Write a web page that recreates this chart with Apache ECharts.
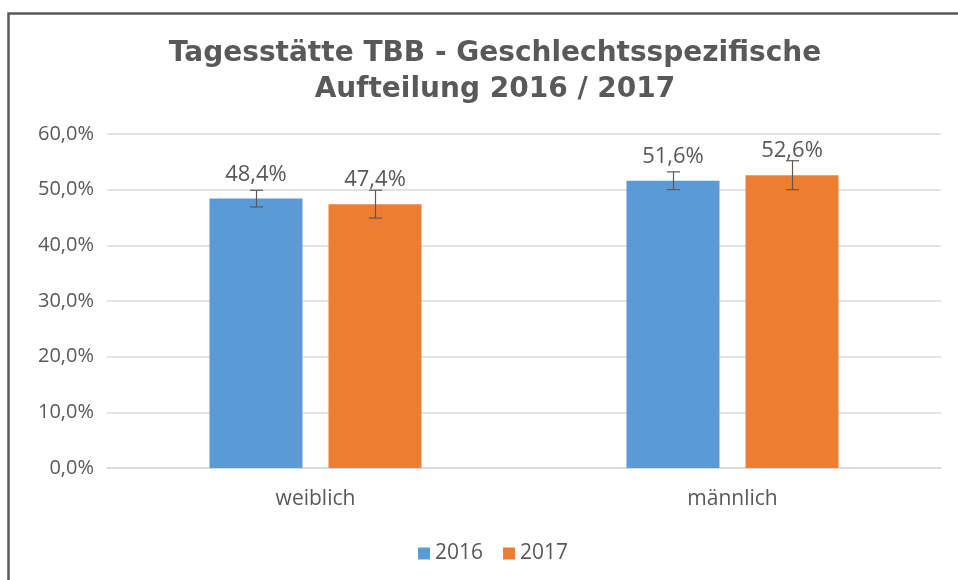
<!DOCTYPE html>
<html>
<head>
<meta charset="utf-8">
<script src="https://cdn.jsdelivr.net/npm/echarts@6/dist/echarts.min.js"></script>
<style>
  html, body { margin: 0; padding: 0; background: #fff; }
  .main { width: 958px; height: 580px; }
</style>
</head>
<body>
<div class="main"></div>
<script>
var categories = ['weiblich', 'männlich'];
var years = ['2016', '2017'];
var values2016 = [48.4, 51.6];
var values2017 = [47.4, 52.6];
var errors2016 = [1.5, 1.6];
var errors2017 = [2.5, 2.6];
var yTicks = [0, 10, 20, 30, 40, 50, 60];

var colors = ['#5B9BD5', '#ED7D31'];
var textColor = '#595959';
var font = 'Open Sans';

function pct(v) {
  return v.toFixed(1).replace('.', ',') + '%';
}

// error bar data: [category index, low, high]
function errData(vals, errs) {
  return vals.map(function (v, i) { return [i, v - errs[i], v + errs[i]]; });
}

// bar width 22.3% of band, gap 28% of bar width
function errSeries(name, vals, errs, side) {
  return {
    name: name + ' err',
    type: 'custom',
    z: 10,
    silent: true,
    data: errData(vals, errs),
    encode: { x: 0, y: [1, 2] },
    renderItem: function (params, api) {
      var band = api.size([1, 0])[0];
      var bw = band * 0.223;
      var off = side * (bw + bw * 0.28) / 2;
      var lo = api.coord([api.value(0), api.value(1)]);
      var hi = api.coord([api.value(0), api.value(2)]);
      var x = Math.round(lo[0] + off) + 0.5;
      var cap = 6.5;
      var st = { stroke: textColor, lineWidth: 1.2 };
      return {
        type: 'group',
        children: [
          { type: 'line', shape: { x1: x, y1: lo[1], x2: x, y2: hi[1] }, style: st },
          { type: 'line', shape: { x1: x - cap, y1: lo[1], x2: x + cap, y2: lo[1] }, style: st },
          { type: 'line', shape: { x1: x - cap, y1: hi[1], x2: x + cap, y2: hi[1] }, style: st }
        ]
      };
    }
  };
}

var barLabel = {
  show: true,
  position: 'top',
  distance: 13,
  color: textColor,
  fontFamily: font,
  fontSize: 22,
  formatter: function (p) { return pct(p.value); }
};

var myChart = echarts.init(document.querySelector('.main'));
var option = {
  animation: false,
  color: colors,
  title: {
    text: 'Tagesstätte TBB - Geschlechtsspezifische\nAufteilung 2016 / 2017',
    left: 490,
    top: 31,
    textAlign: 'center',
    textStyle: {
      color: textColor,
      fontFamily: 'DejaVu Sans',
      fontWeight: 'bold',
      fontSize: 28,
      lineHeight: 36
    }
  },
  legend: {
    data: years,
    left: 413,
    top: 538,
    itemWidth: 12,
    itemHeight: 12,
    itemGap: 20,
    icon: 'rect',
    textStyle: { color: textColor, fontFamily: font, fontSize: 21 }
  },
  grid: { left: 107, right: 17, top: 134, bottom: 112 },
  xAxis: {
    type: 'category',
    data: categories,
    axisTick: { show: false },
    axisLine: { lineStyle: { color: '#d9d9d9', width: 1.5 } },
    axisLabel: { color: textColor, fontFamily: font, fontSize: 21, margin: 21 }
  },
  yAxis: {
    type: 'value',
    min: yTicks[0],
    max: yTicks[yTicks.length - 1],
    interval: 10,
    axisLine: { show: false },
    axisTick: { show: false },
    splitLine: { lineStyle: { color: '#d9d9d9', width: 1.5 } },
    axisLabel: {
      color: textColor, fontFamily: font, fontSize: 20, margin: 13,
      formatter: function (v) { return pct(v); }
    }
  },
  series: [
    { name: years[0], type: 'bar', data: values2016, barWidth: '22.3%', barGap: '28%', label: barLabel },
    { name: years[1], type: 'bar', data: values2017, barWidth: '22.3%', barGap: '28%', label: barLabel },
    errSeries(years[0], values2016, errors2016, -1),
    errSeries(years[1], values2017, errors2017, 1)
  ],
  graphic: [{
    type: 'rect',
    shape: { x: 8.5, y: 13.5, width: 1000, height: 700 },
    style: { fill: 'none', stroke: '#5a5a5a', lineWidth: 2.5 },
    silent: true
  }]
};
myChart.setOption(option);
</script>
</body>
</html>
